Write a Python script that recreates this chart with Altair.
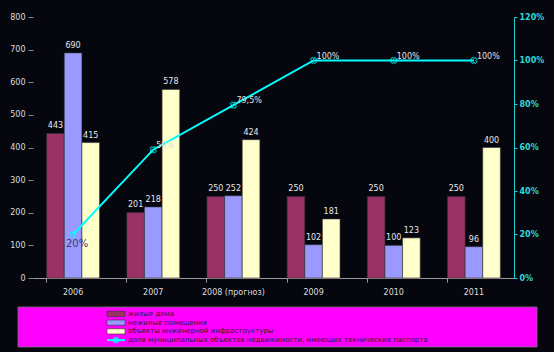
import altair as alt
import pandas as pd

years = ["2006", "2007", "2008 (прогноз)", "2009", "2010", "2011"]
series = ["жилые дома", "нежилые помещения", "объекты инженерной инфраструктуры"]
line_name = "доля муниципальных объектов недвижимости, имеющих технические паспорта"
residential = [443, 201, 250, 250, 250, 250]
nonresidential = [690, 218, 252, 102, 100, 96]
infrastructure = [415, 578, 424, 181, 123, 400]
share = [0.20, 0.59, 0.795, 1.00, 1.00, 1.00]
share_labels = ["20%", "59%", "79,5%", "100%", "100%", "100%"]
bar_colors = ["#993366", "#9999ff", "#ffffcc"]
line_color = "#00ffff"

rows = []
for i, y in enumerate(years):
    for s, vals in zip(series, [residential, nonresidential, infrastructure]):
        rows.append({"year": y, "series": s, "value": vals[i]})
bars_df = pd.DataFrame(rows)
line_df = pd.DataFrame({"year": years, "share": share, "label": share_labels})
legend_df = pd.DataFrame({"name": series + [line_name], "idx": [0, 1, 2, 3]})

xscale = alt.Scale(domain=years, paddingInner=0.34, paddingOuter=0.17)
xaxis = alt.Axis(title=None, labelAngle=0, bandPosition=0, domainColor="#9a9a9a",
                 tickColor="#9a9a9a", tickSize=4, labelColor="#dddddd",
                 labelFontSize=8, labelPadding=6)
def xenc():
    return alt.X("year:N", scale=xscale, sort=years, axis=xaxis)

offscale = alt.Scale(domain=series, paddingInner=0, paddingOuter=0)
color_scale = alt.Scale(domain=series, range=bar_colors)

lyaxis = alt.Axis(title=None, values=list(range(0, 801, 100)), orient="left", domain=False,
                  grid=False, labelColor="#dddddd", labelFontSize=8, tickColor="#888888",
                  tickSize=5, labelPadding=3, labelOverlap=False)
def lyenc():
    return alt.Y("value:Q", scale=alt.Scale(domain=[0, 800]), axis=lyaxis)

bars = alt.Chart(bars_df).mark_bar(stroke="#333333", strokeWidth=0.6).encode(
    x=xenc(),
    xOffset=alt.XOffset("series:N", sort=series, scale=offscale),
    y=lyenc(),
    color=alt.Color("series:N", scale=color_scale, legend=None),
)
bar_text = alt.Chart(bars_df).mark_text(fontSize=8, color="#e8e8e8", dy=-7).encode(
    x=xenc(),
    xOffset=alt.XOffset("series:N", sort=series, scale=offscale),
    y=lyenc(),
    text="value:Q",
)
left = alt.layer(bars, bar_text)

ryaxis = alt.Axis(title=None, orient="right", format="%", values=[0, 0.2, 0.4, 0.6, 0.8, 1.0, 1.2],
                  domainColor="#20d0d0", tickColor="#20d0d0", labelColor="#30d8d8",
                  labelFontSize=8, labelFontWeight="bold", tickSize=3, grid=False, labelOverlap=False)
def ryenc():
    return alt.Y("share:Q", scale=alt.Scale(domain=[0, 1.2]), axis=ryaxis)

line = alt.Chart(line_df).mark_line(color=line_color, strokeWidth=2).encode(x=xenc(), y=ryenc())
pts = alt.Chart(line_df).mark_point(shape="cross", angle=45, color=line_color, size=40,
                                    filled=False, strokeWidth=1).encode(x=xenc(), y=ryenc())
ptxt_first = alt.Chart(line_df).transform_filter(alt.datum.year == years[0]).mark_text(
    fontSize=10, color="#3a3a70", dy=9, dx=4).encode(x=xenc(), y=ryenc(), text="label:N")
ptxt_rest = alt.Chart(line_df).transform_filter(alt.datum.year != years[0]).mark_text(
    fontSize=8, color="#e0e0e0", dy=-4, dx=3, align="left").encode(x=xenc(), y=ryenc(), text="label:N")
right = alt.layer(line, pts, ptxt_first, ptxt_rest)

# legend box
bg = alt.Chart(pd.DataFrame({"a": [0]})).mark_rect(color="#ff00ff", stroke="#777777", strokeWidth=0.8).encode(
    x=alt.value(-15), x2=alt.value(504), y=alt.value(290), y2=alt.value(330))
lyscale = alt.Scale(domain=[0, 1, 2, 3], range=[292.5, 327.5], paddingInner=0.4, paddingOuter=0.2)
ly = alt.Y("idx:O", scale=lyscale, axis=None)
lrect = alt.Chart(legend_df).transform_filter(alt.datum.idx < 3).mark_rect(stroke="#333333", strokeWidth=0.6).encode(
    x=alt.value(74), x2=alt.value(92), y=ly,
    color=alt.Color("name:N", scale=color_scale, legend=None))
lrule = alt.Chart(legend_df).transform_filter(alt.datum.idx == 3).mark_rule(color=line_color, strokeWidth=2).encode(
    x=alt.value(74), x2=alt.value(92), y=ly)
lpt = alt.Chart(legend_df).transform_filter(alt.datum.idx == 3).mark_point(
    shape="cross", angle=45, color=line_color, size=20, filled=False).encode(x=alt.value(83), y=ly)
ltext = alt.Chart(legend_df).mark_text(align="left", fontSize=7, color="#222222").encode(
    x=alt.value(95), y=ly, text="name:N")
legend = alt.layer(bg, lrect, lrule, lpt, ltext)

chart = alt.layer(left, right, legend).resolve_scale(y="independent", color="shared").properties(
    width=481, height=261,
    autosize=alt.AutoSizeParams(type="none"),
    padding={"left": 33, "top": 17, "right": 40, "bottom": 74},
    background="#06060e",
).configure_view(stroke=None).configure_axis(labelFont="DejaVu Sans").configure_text(font="DejaVu Sans")

chart.save("out.html", embed_options={"renderer": "svg", "actions": False})
